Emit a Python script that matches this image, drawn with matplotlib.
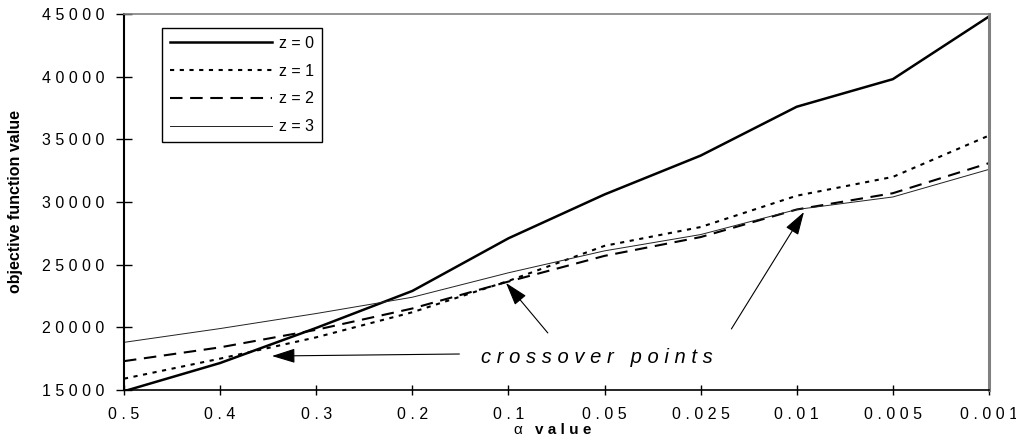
import numpy as np
import matplotlib
matplotlib.use('Agg')
import matplotlib.pyplot as plt

plt.rcParams['font.family'] = ['Liberation Sans', 'DejaVu Sans']
plt.rcParams['lines.scale_dashes'] = False

# values
alpha_labels = ['0.5', '0.4', '0.3', '0.2', '0.1', '0.05', '0.025', '0.01', '0.005', '0.001']
z0 = [14900, 17150, 19950, 22900, 27100, 30600, 33700, 37600, 39800, 44800]
z1 = [15900, 17500, 19200, 21200, 23700, 26500, 28000, 30500, 32000, 35300]
z2 = [17300, 18400, 19800, 21500, 23650, 25700, 27200, 29400, 30700, 33100]
z3 = [18800, 19900, 21100, 22400, 24350, 26100, 27400, 29400, 30400, 32600]
y_ticks = [15000, 20000, 25000, 30000, 35000, 40000, 45000]


def spaced(s):
    return ' '.join(s)


x = np.arange(len(alpha_labels))

fig = plt.figure(figsize=(10.16, 4.37), dpi=100)
ax = fig.add_axes([0.122, 0.1076, 0.8514, 0.8604])

ax.plot(x, z0, color='black', lw=1.8, label='z = 0')
ax.plot(x, z1, color='black', lw=1.5, dashes=(3, 4), label='z = 1')
ax.plot(x, z2, color='black', lw=1.5, dashes=(9, 5.5), label='z = 2')
ax.plot(x, z3, color='#222222', lw=0.7, label='z = 3')

ax.set_xlim(0, len(alpha_labels) - 1)
ax.set_ylim(15000, 45000)
ax.set_xticks(x)
ax.set_xticklabels([spaced(a) for a in alpha_labels], fontsize=11.5)
ax.set_yticks(y_ticks)
ax.set_yticklabels([spaced(str(v)) for v in y_ticks], fontsize=11.5)
ax.tick_params(axis='y', direction='inout', length=12, width=1, pad=8)
ax.tick_params(axis='x', direction='inout', length=7, width=1, pad=9)

ax.spines['left'].set_linewidth(1.5)
ax.spines['bottom'].set_linewidth(1.2)
ax.spines['top'].set_color('#808080')
ax.spines['top'].set_linewidth(1.2)
ax.spines['right'].set_color('#808080')
ax.spines['right'].set_linewidth(2.2)

leg = ax.legend(loc='upper left', bbox_to_anchor=(0.044, 0.963), borderaxespad=0,
                fontsize=11.5, handlelength=6.4, labelspacing=0.8, fancybox=False,
                framealpha=1, edgecolor='black', borderpad=0.5, handletextpad=0.4)
leg.get_frame().set_linewidth(1.0)

# crossover annotations
arrow = dict(arrowstyle='-|>,head_length=0.8,head_width=0.25', mutation_scale=18,
             color='black', lw=0.8, shrinkA=0, shrinkB=0)
ax.annotate('', xy=(1.54, 17710), xytext=(3.49, 17870), arrowprops=arrow)
ax.annotate('', xy=(3.975, 23540), xytext=(4.41, 19550), arrowprops=arrow)
ax.annotate('', xy=(7.075, 29200), xytext=(6.32, 19870), arrowprops=arrow)
ax.text(4.92, 17630, 'c r o s s o v e r   p o i n t s', fontsize=14.5, style='italic',
        ha='center', va='center')

ax.set_ylabel('objective function value', fontsize=11.5, fontweight='bold', labelpad=14)
fig.text(0.510, 0.016, 'α', fontsize=11, ha='center', va='center')
fig.text(0.527, 0.016, spaced('value'), fontsize=11, fontweight='bold', ha='left', va='center')

plt.savefig('out.png', dpi=100)
